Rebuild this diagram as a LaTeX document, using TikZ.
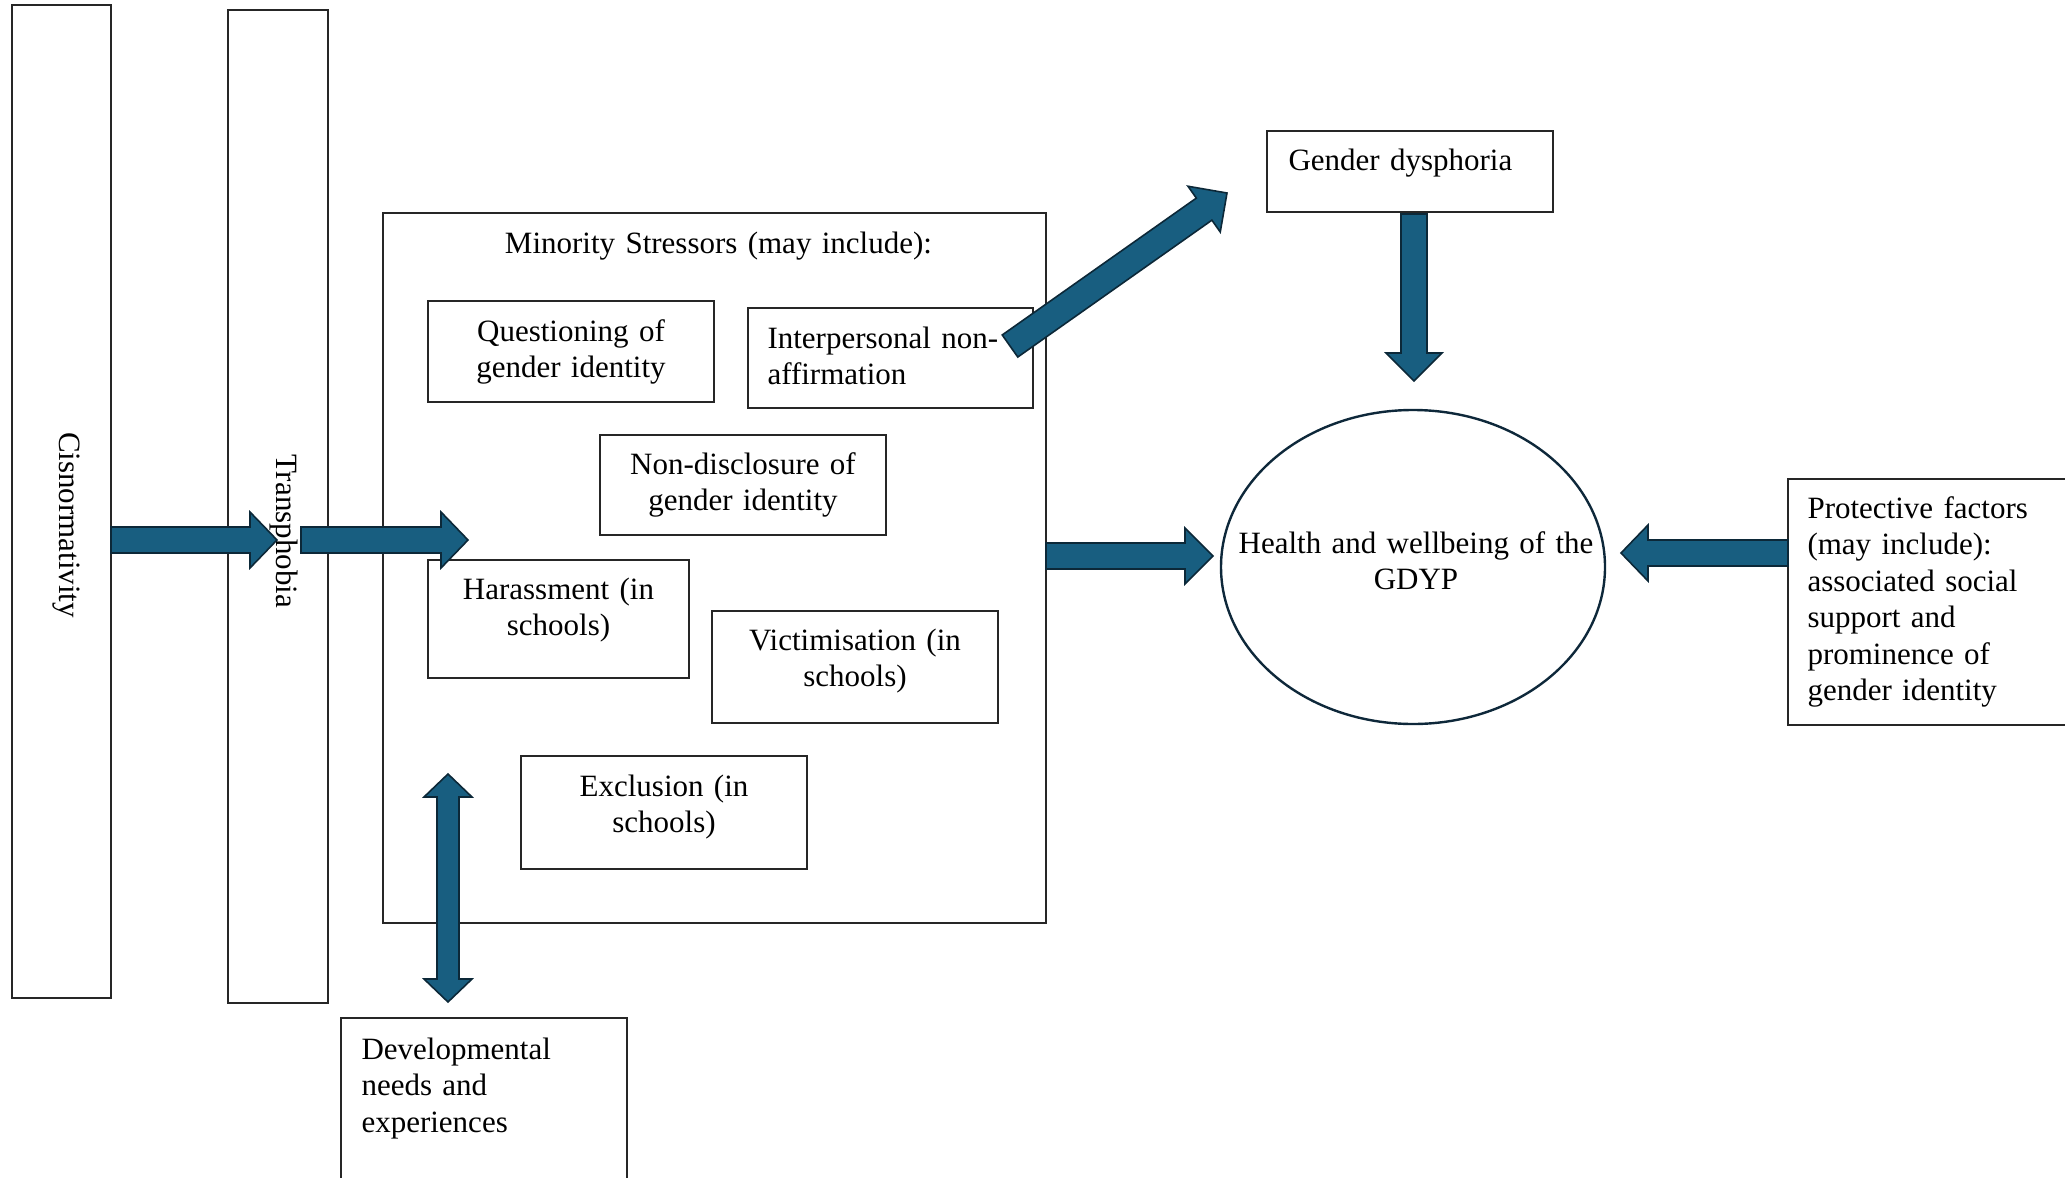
\documentclass[tikz,border=0pt]{standalone}
\usepackage{fontspec}
\setmainfont{Liberation Serif}
\usetikzlibrary{calc,shapes.geometric}

\definecolor{flowfill}{RGB}{24,94,128}
\definecolor{flowedge}{RGB}{12,40,56}
\definecolor{rim}{RGB}{14,40,58}

% block arrow: start, end, shaft width, head width, head length
\newcommand\blockarrow[5]{%
  \filldraw[flow] let \p1=(#1), \p2=(#2),
    \n1={atan2(\y2-\y1,\x2-\x1)}, \n2={veclen(\x2-\x1,\y2-\y1)} in
    [shift={(\p1)}, rotate=\n1]
    (0,{-#3/2}) -- ({\n2-#5},{-#3/2}) -- ({\n2-#5},{-#4/2}) -- (\n2,0)
    -- ({\n2-#5},{#4/2}) -- ({\n2-#5},{#3/2}) -- (0,{#3/2}) -- cycle;
}
% block arrow with a head at both ends
\newcommand\bothwaysarrow[5]{%
  \filldraw[flow] let \p1=(#1), \p2=(#2),
    \n1={atan2(\y2-\y1,\x2-\x1)}, \n2={veclen(\x2-\x1,\y2-\y1)} in
    [shift={(\p1)}, rotate=\n1]
    (0,0) -- (#5,{-#4/2}) -- (#5,{-#3/2}) -- ({\n2-#5},{-#3/2})
    -- ({\n2-#5},{-#4/2}) -- (\n2,0) -- ({\n2-#5},{#4/2})
    -- ({\n2-#5},{#3/2}) -- (#5,{#3/2}) -- (#5,{#4/2}) -- cycle;
}

\begin{document}
\begin{tikzpicture}[x=1pt,y=-1pt,
  box/.style={draw=black!85, line width=1.4pt, inner sep=0pt, rectangle},
  txt/.style={inner sep=0pt, font=\fontsize{31}{36.5}\selectfont, text width=#1},
  txt/.default=300pt,
  label/.style={inner sep=0pt, font=\fontsize{31}{36.5}\selectfont},
  flow/.style={fill=flowfill, draw=flowedge, line width=1.6pt, line join=miter}]

\useasboundingbox (0,0) rectangle (2065,1178);

% outer context bars
\node[box, minimum width=99pt, minimum height=993pt] (cis) at (61.5,501.5) {};
\node[box, minimum width=100pt, minimum height=993pt] (trans) at (278,506.5) {};
\node[label, rotate=-90] at (66,525) {Cisnormativity};
\node[label, rotate=-90] at (284,531) {Transphobia};

% minority stressors frame and its items
\node[box, minimum width=663pt, minimum height=710pt] (minority) at (714.5,568) {};
\node[txt=480pt, align=center, anchor=base] at ($(minority.north)+(4,41)$) {Minority Stressors (may include):};

\node[box, minimum width=286pt, minimum height=101pt] (quest) at (571,351.5) {};
\node[txt=270pt, align=center, anchor=base] at ($(quest.north)+(0,41)$) {Questioning of\\gender identity};

\node[box, minimum width=285pt, minimum height=100pt] (interp) at (890.5,358) {};
\node[txt=260pt, align=left, anchor=base west] at ($(interp.north west)+(20,41)$) {Interpersonal non-\\affirmation};

\node[box, minimum width=286pt, minimum height=100pt] (nondis) at (743,485) {};
\node[txt=270pt, align=center, anchor=base] at ($(nondis.north)+(0,40)$) {Non-disclosure of\\gender identity};

\node[box, minimum width=261pt, minimum height=118pt] (harass) at (558.5,619) {};
\node[txt=250pt, align=center, anchor=base] at ($(harass.north)+(0,40)$) {Harassment (in\\schools)};

\node[box, minimum width=286pt, minimum height=112pt] (victim) at (855,667) {};
\node[txt=270pt, align=center, anchor=base] at ($(victim.north)+(0,40)$) {Victimisation (in\\schools)};

\node[box, minimum width=286pt, minimum height=113pt] (excl) at (664,812.5) {};
\node[txt=270pt, align=center, anchor=base] at ($(excl.north)+(0,41)$) {Exclusion (in\\schools)};

% outcome side
\node[box, minimum width=286pt, minimum height=81pt] (dysph) at (1410,171.5) {};
\node[txt=260pt, align=left, anchor=base west] at ($(dysph.north west)+(22,40)$) {Gender dysphoria};

\node[ellipse, draw=rim, line width=2.4pt, inner sep=0pt, minimum width=384pt, minimum height=314pt] (health) at (1413,567) {};
\node[txt=380pt, align=center, anchor=base] at ($(health.center)+(3,-14)$) {Health and wellbeing of the\\GDYP};

\node[box, minimum width=310pt, minimum height=246pt] (protect) at (1943,602) {};
\node[txt=260pt, align=left, anchor=base west] at ($(protect.north west)+(20,40)$) {Protective factors\\(may include):\\associated social\\support and\\prominence of\\gender identity};

\node[box, minimum width=286pt, minimum height=190pt] (dev) at (484,1113) {};
\node[txt=260pt, align=left, anchor=base west] at ($(dev.north west)+(21,42)$) {Developmental\\needs and\\experiences};

% arrow end points
\coordinate (a1s) at (111,540);   \coordinate (a1e) at (277,540);
\coordinate (a2s) at (301,540);   \coordinate (a2e) at (468,540);
\coordinate (a3s) at (1046,556);  \coordinate (a3e) at (1213,556);
\coordinate (a4s) at (1788,553);  \coordinate (a4e) at (1621,553);
\coordinate (a5s) at (1414,214);  \coordinate (a5e) at (1414,381);
\coordinate (a6s) at (1010,346);  \coordinate (a6e) at (1227,193);
\coordinate (dvs) at (448,774);   \coordinate (dve) at (448,1002);

% block arrows
\blockarrow{a1s}{a1e}{26}{56}{27}
\blockarrow{a2s}{a2e}{26}{56}{27}
\blockarrow{a3s}{a3e}{26}{56}{28}
\blockarrow{a4s}{a4e}{26}{56}{27}
\blockarrow{a5s}{a5e}{26}{56}{28}
\blockarrow{a6s}{a6e}{27}{56}{28}
\bothwaysarrow{dvs}{dve}{22}{48}{23}
\end{tikzpicture}
\end{document}
